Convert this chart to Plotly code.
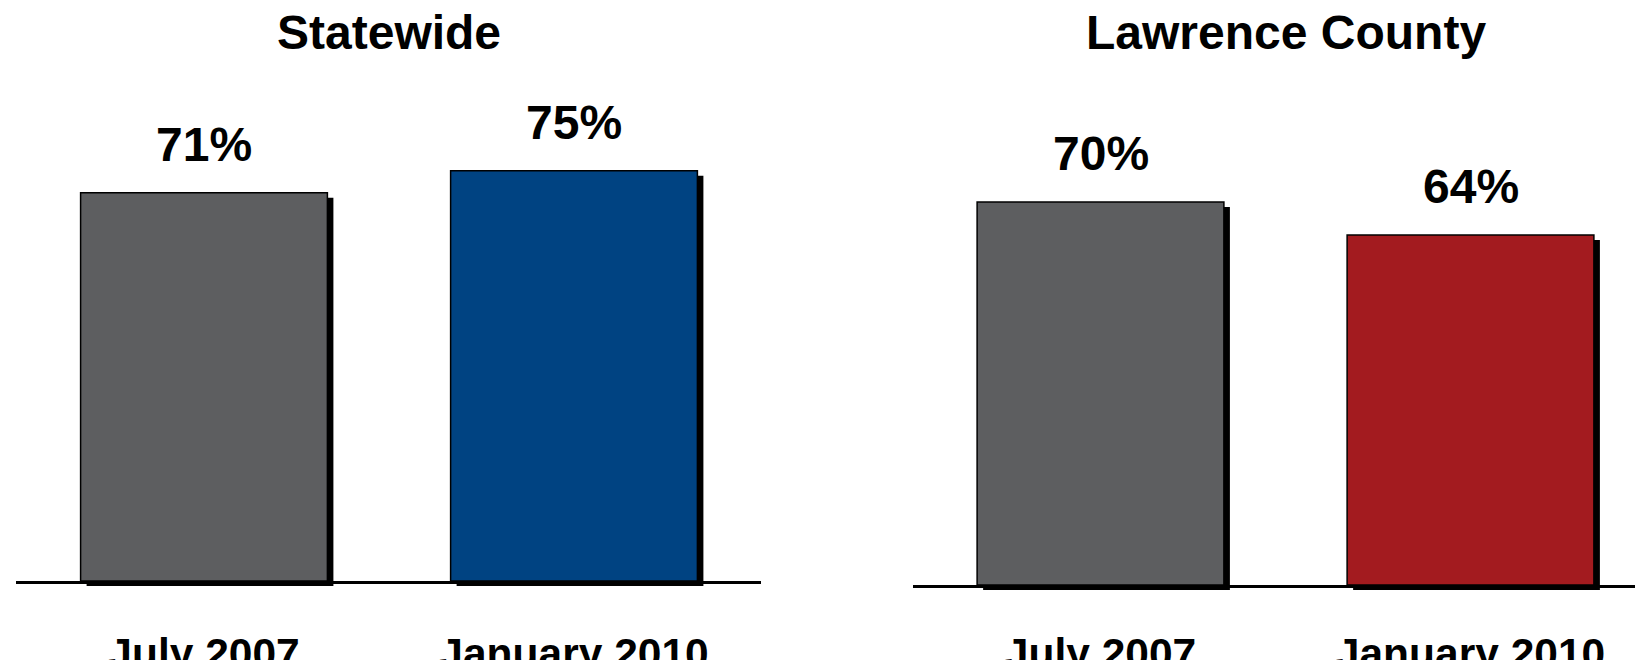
import plotly.graph_objects as go

# ---- data ----
categories = ["July 2007", "January 2010"]
statewide_values = [71, 75]
lawrence_values = [70, 64]
statewide_labels = ["71%", "75%"]
lawrence_labels = ["70%", "64%"]
panel_titles = ["Statewide", "Lawrence County"]
statewide_colors = ["#5D5E60", "#004382"]
lawrence_colors = ["#5D5E60", "#A31B1F"]

# ---- layout constants (pixels) ----
W, H = 1643, 660
PPU_X = 370.0          # pixels per category step
PPY = 5.47             # pixels per percentage point
BAR_W = 0.667
SH_DX, SH_DY = 6, 5    # shadow offset
FONT = "Arial, Liberation Sans, sans-serif"

panels = [
    # left px, right px, baseline px, first-center px, tick label offset
    dict(L=8, R=753, base=573, c0=196, ticklen=33),
    dict(L=905, R=1643, base=577, c0=1092.5, ticklen=29),
]

fig = go.Figure()
layout_axes = {}
annotations = []

datasets = [
    (statewide_values, statewide_labels, statewide_colors),
    (lawrence_values, lawrence_labels, lawrence_colors),
]

for i, (p, (vals, labs, cols)) in enumerate(zip(panels, datasets)):
    sh = i + 1          # shadow subplot index (1,2)
    mn = i + 3          # main subplot index (3,4)
    r0 = -(p["c0"] - p["L"]) / PPU_X
    r1 = r0 + (p["R"] - p["L"]) / PPU_X
    ytop = p["base"] / PPY

    # shadow axes (same scales, offset a few pixels right and down)
    sL = p["L"] + SH_DX
    sR = min(p["R"] + SH_DX, W)
    s_r1 = r0 + (sR - sL) / PPU_X
    sx = "x" if sh == 1 else f"x{sh}"
    sy = "y" if sh == 1 else f"y{sh}"
    layout_axes["xaxis" if sh == 1 else f"xaxis{sh}"] = dict(
        domain=[sL / W, sR / W], range=[r0, s_r1], visible=False,
        anchor=sy, type="linear", automargin=False)
    layout_axes["yaxis" if sh == 1 else f"yaxis{sh}"] = dict(
        domain=[(H - p["base"] - SH_DY) / H, 1 - SH_DY / H], range=[0, ytop],
        visible=False, anchor=sx, automargin=False)

    fig.add_trace(go.Bar(
        x=list(range(len(categories))), y=vals, width=BAR_W,
        marker=dict(color="black", line=dict(width=0)),
        xaxis=sx, yaxis=sy, hoverinfo="skip", showlegend=False))

    # main axes
    mx, my = f"x{mn}", f"y{mn}"
    layout_axes[f"xaxis{mn}"] = dict(
        domain=[p["L"] / W, p["R"] / W], range=[r0, r1], anchor=my,
        tickmode="array", tickvals=list(range(len(categories))),
        ticktext=categories, showgrid=False, zeroline=False,
        showline=True, linecolor="black", linewidth=3, automargin=False,
        ticks="outside", ticklen=p["ticklen"], tickcolor="rgba(0,0,0,0)",
        tickfont=dict(family=FONT, size=42.5, color="black", weight="bold"))
    layout_axes[f"yaxis{mn}"] = dict(
        domain=[(H - p["base"]) / H, 1], range=[0, ytop], visible=False,
        anchor=mx, automargin=False)

    fig.add_trace(go.Bar(
        x=list(range(len(categories))), y=vals, width=BAR_W,
        marker=dict(color=cols, line=dict(color="black", width=1.5)),
        xaxis=mx, yaxis=my, showlegend=False))

    for k, (v, lab) in enumerate(zip(vals, labs)):
        annotations.append(dict(
            x=k, y=v, xref=mx, yref=my, text=lab, showarrow=False,
            xanchor="center", yanchor="bottom", yshift=20,
            font=dict(family=FONT, size=48, color="black", weight="bold")))

    annotations.append(dict(
        x=(p["c0"] + PPU_X / 2) / W,
        y=1 - 25 / H, xref="paper", yref="paper", text=panel_titles[i],
        showarrow=False, xanchor="center", yanchor="middle",
        font=dict(family=FONT, size=48, color="black", weight="bold")))

fig.update_layout(
    width=W, height=H, autosize=False,
    margin=dict(l=0, r=0, t=0, b=0, autoexpand=False),
    paper_bgcolor="white", plot_bgcolor="rgba(0,0,0,0)",
    barmode="overlay", showlegend=False,
    annotations=annotations, **layout_axes)

fig.write_html("out.html")
